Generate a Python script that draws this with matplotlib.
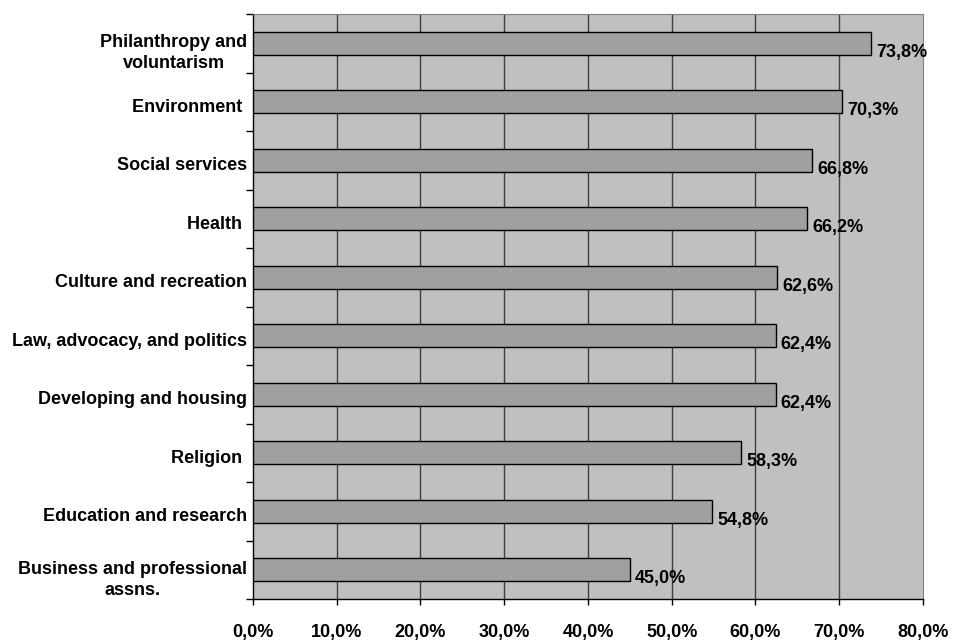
import matplotlib
matplotlib.use("Agg")
import matplotlib.pyplot as plt
from matplotlib.ticker import FixedLocator
from matplotlib.transforms import ScaledTranslation

categories = [
    "Philanthropy and\nvoluntarism",
    "Environment ",
    "Social services",
    "Health ",
    "Culture and recreation",
    "Law, advocacy, and politics",
    "Developing and housing",
    "Religion ",
    "Education and research",
    "Business and professional\nassns.",
]
values = [73.8, 70.3, 66.8, 66.2, 62.6, 62.4, 62.4, 58.3, 54.8, 45.0]
xticks = [0, 10, 20, 30, 40, 50, 60, 70, 80]

plt.rcParams["font.family"] = ["Liberation Sans", "DejaVu Sans"]
plt.rcParams["font.weight"] = "bold"

FS = 13

fig = plt.figure(figsize=(9.54, 6.41), dpi=100)
ax = fig.add_axes([253 / 954, 1 - 599 / 641, (923 - 253) / 954, (599 - 14) / 641])
ax.set_facecolor("#C0C0C0")

n = len(categories)
ypos = list(range(n))
ax.barh(ypos, values, height=0.39, color="#A0A0A0", edgecolor="black", linewidth=1.0, zorder=3)
ax.set_xlim(0, 80)
ax.set_ylim(n - 0.5, -0.5)

for v in xticks[1:-1]:
    ax.axvline(v, color="#404040", linewidth=1.0, zorder=1)

for y, v in zip(ypos, values):
    ax.text(v + 0.6, y + 0.15, f"{v:.1f}%".replace(".", ","), ha="left", va="center",
            fontsize=FS, fontweight="bold", zorder=4)

ax.xaxis.set_major_locator(FixedLocator(xticks))
ax.set_xticklabels([f"{t:.1f}%".replace(".", ",") for t in xticks], fontsize=FS, fontweight="bold")
ax.tick_params(axis="x", direction="out", length=4, width=1, pad=14)

ax.set_yticks(ypos)
ax.set_yticklabels(categories, fontsize=FS, fontweight="bold", multialignment="center",
                   linespacing=1.3)
ax.tick_params(axis="y", length=0, pad=4)
ax.set_yticks([i + 0.5 for i in range(-1, n)], minor=True)
ax.tick_params(axis="y", which="minor", direction="out", length=5, width=1)

# category labels sit a little below the bar centres
for lbl, name in zip(ax.get_yticklabels(), categories):
    drop = 6 if "\n" in name else 3.5
    lbl.set_transform(lbl.get_transform() + ScaledTranslation(0, -drop / 100, fig.dpi_scale_trans))

for side in ("top", "right"):
    ax.spines[side].set_color("#808080")
for side in ("left", "bottom"):
    ax.spines[side].set_color("black")
    ax.spines[side].set_linewidth(1.0)

fig.savefig("out.png", dpi=100, facecolor="white")
